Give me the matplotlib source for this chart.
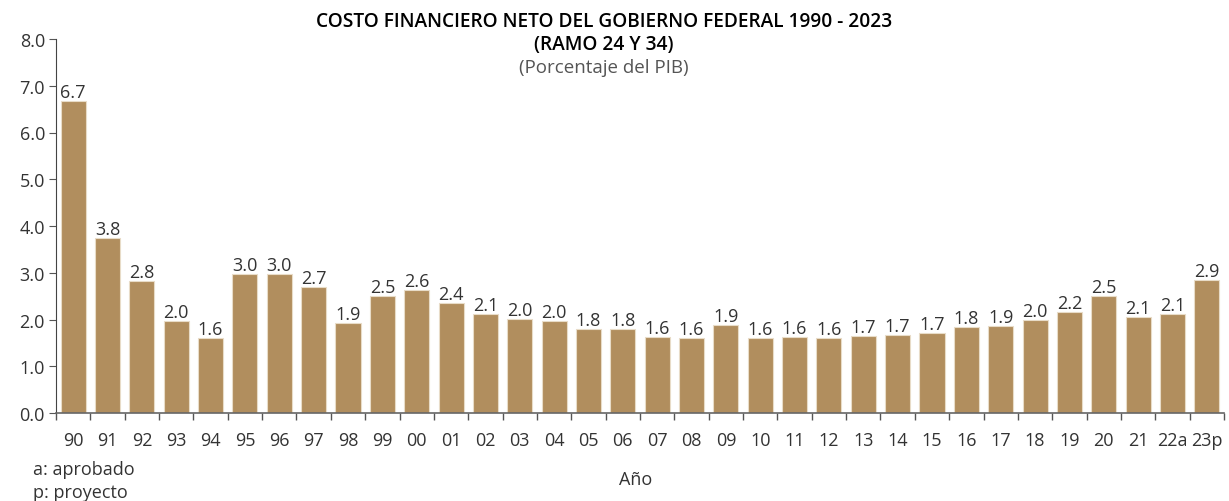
import numpy as np
import matplotlib
matplotlib.use('Agg')
import matplotlib.pyplot as plt

# ─── Datos ─────────────────────────────────────────────────────────────
years = ["90", "91", "92", "93", "94", "95", "96", "97", "98", "99",
         "00", "01", "02", "03", "04", "05", "06", "07", "08", "09",
         "10", "11", "12", "13", "14", "15", "16", "17", "18", "19",
         "20", "21", "22a", "23p"]
values = [6.67, 3.74, 2.82, 1.97, 1.60, 2.97, 2.97, 2.70, 1.93, 2.50,
          2.63, 2.35, 2.12, 2.01, 1.97, 1.80, 1.80, 1.63, 1.60, 1.88,
          1.60, 1.63, 1.61, 1.65, 1.66, 1.72, 1.83, 1.86, 1.98, 2.15,
          2.51, 2.06, 2.12, 2.85]
labels = ["6.7", "3.8", "2.8", "2.0", "1.6", "3.0", "3.0", "2.7", "1.9", "2.5",
          "2.6", "2.4", "2.1", "2.0", "2.0", "1.8", "1.8", "1.6", "1.6", "1.9",
          "1.6", "1.6", "1.6", "1.7", "1.7", "1.7", "1.8", "1.9", "2.0", "2.2",
          "2.5", "2.1", "2.1", "2.9"]

BAR = '#B18E5E'
TXT = '#333333'
FS = 13
plt.rcParams['font.family'] = ['Open Sans', 'DejaVu Sans']

fig = plt.figure(figsize=(12.29, 5.02), dpi=100)
ax = fig.add_axes([56 / 1229, 1 - 414 / 502, (1224 - 56) / 1229, (414 - 40) / 502])

x = np.arange(len(years))
bars = ax.bar(x, values, width=0.73, color=BAR, edgecolor='#E8DCC8', linewidth=0.8)

for xi, v, lab in zip(x, values, labels):
    ax.annotate(lab, (xi, v), xytext=(0, 0), textcoords='offset points',
                ha='center', va='bottom', fontsize=FS, color=TXT)

ax.set_xlim(-0.5, len(years) - 0.5)
ax.set_ylim(0, 8)
ax.set_yticks(np.arange(0, 8.1, 1.0))
ax.set_yticklabels([f"{t:.1f}" for t in np.arange(0, 8.1, 1.0)])

# ticks en los bordes de categoría, etiquetas al centro
ax.set_xticks(np.arange(-0.5, len(years), 1.0))
ax.set_xticklabels([])
ax.set_xticks(x, minor=True)
ax.set_xticklabels(years, minor=True)
ax.tick_params(axis='x', which='major', length=5, color='#555555', width=1)
ax.tick_params(axis='x', which='minor', length=0, pad=13, labelsize=FS, labelcolor=TXT)
ax.tick_params(axis='y', length=5, color='#555555', labelsize=FS, labelcolor=TXT, pad=3)

for s in ['top', 'right']:
    ax.spines[s].set_visible(False)
ax.spines['left'].set_color('#444444')
ax.spines['bottom'].set_color('#666666')
ax.spines['bottom'].set_linewidth(1.2)

# ─── Textos ────────────────────────────────────────────────────────────
fig.text(604 / 1229, 1 - 22 / 502, "COSTO FINANCIERO NETO DEL GOBIERNO FEDERAL 1990 - 2023",
         ha='center', va='center', fontsize=13.8, fontweight='semibold', color='black')
fig.text(604 / 1229, 1 - 45 / 502, "(RAMO 24 Y 34)",
         ha='center', va='center', fontsize=13.8, fontweight='semibold', color='black')
fig.text(604 / 1229, 1 - 68 / 502, "(Porcentaje del PIB)",
         ha='center', va='center', fontsize=13.5, color='#555555')

fig.text(636 / 1229, 1 - 480 / 502, "Año", ha='center', va='center',
         fontsize=FS, color=TXT)
fig.text(33 / 1229, 1 - 470 / 502, "a: aprobado", ha='left', va='center',
         fontsize=FS, color=TXT)
fig.text(33 / 1229, 1 - 493 / 502, "p: proyecto", ha='left', va='center',
         fontsize=FS, color=TXT)

plt.savefig("out.png", dpi=100)
